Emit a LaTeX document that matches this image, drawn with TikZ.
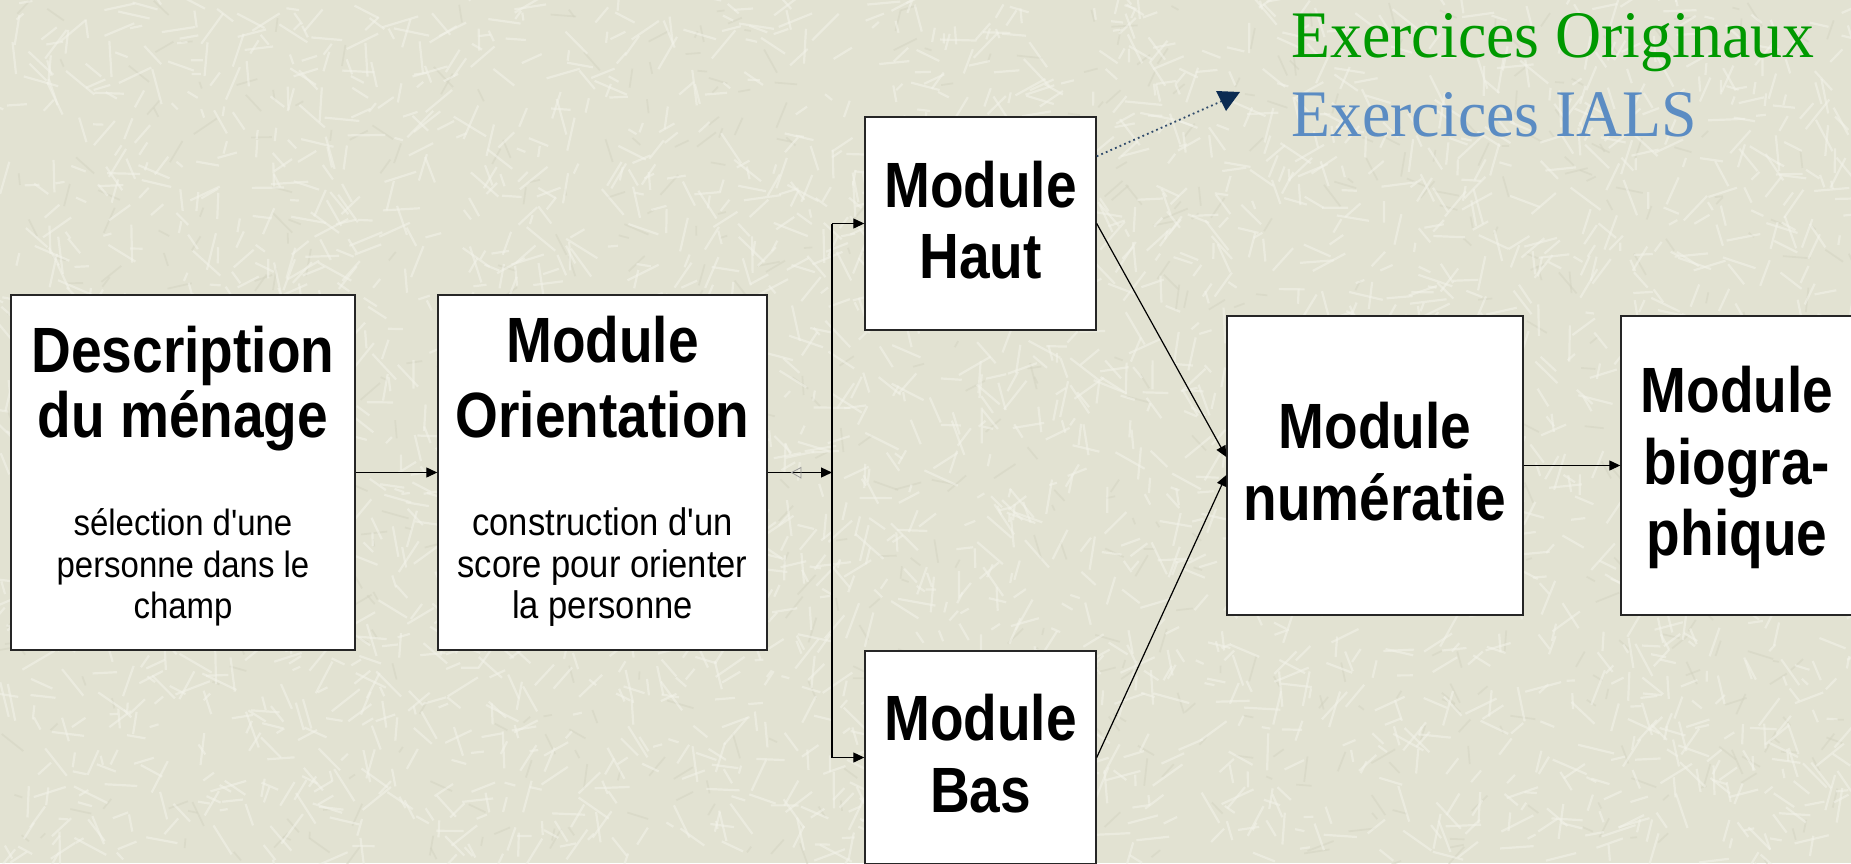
\documentclass[tikz,border=0pt]{standalone}
\usepackage{fontspec}
\usetikzlibrary{arrows.meta,calc}
\newfontfamily\boxbf[FakeStretch=0.86]{Liberation Sans}
\newfontfamily\boxrm[FakeStretch=0.9]{Liberation Sans}
\newfontfamily\serifx[FakeStretch=0.96]{Liberation Serif}
\definecolor{bg}{HTML}{E2E2D2}
\definecolor{streak}{HTML}{F3F3EA}
\definecolor{streakd}{HTML}{D3D3C1}
\definecolor{navy}{HTML}{0B2B52}
\definecolor{exgreen}{HTML}{009900}
\definecolor{exblue}{HTML}{5B8CC3}
\tikzset{
  box/.style={draw=black!85, line width=0.7pt, fill=white, rectangle, inner sep=0pt},
  titletxt/.style={anchor=base, inner sep=0pt, font=\boxbf\bfseries\fontsize{32pt}{32pt}\selectfont},
  smalltxt/.style={anchor=base, inner sep=0pt, font=\boxrm\fontsize{18.3pt}{18.3pt}\selectfont},
  smalltxtb/.style={anchor=base, inner sep=0pt, font=\boxrm\fontsize{19.2pt}{19.2pt}\selectfont},
  extxt/.style={anchor=base west, inner sep=0pt, font=\serifx\fontsize{33.25pt}{33.25pt}\selectfont},
  conn/.style={draw=black, line width=0.6pt, -{Triangle[length=5.5pt,width=5pt]}},
  plainline/.style={draw=black, line width=0.6pt}
}
\begin{document}
\begin{tikzpicture}[x=0.5pt,y=-0.5pt]
\useasboundingbox (0,0) rectangle (1851,863);
\begin{scope}
\clip (0,0) rectangle (1851,863);
\fill[bg] (0,0) rectangle (1851,863);
\pgfmathsetseed{12}
\foreach \i in {1,...,700}{
  \pgfmathsetmacro\xa{rnd*1851}
  \pgfmathsetmacro\ya{rnd*863}
  \pgfmathsetmacro\an{rnd*360}
  \pgfmathsetmacro\le{6+rnd*22}
  \draw[streakd, line width=0.9pt, opacity=0.5] (\xa,\ya) -- ++(\an:\le);
}
\foreach \i in {1,...,3200}{
  \pgfmathsetmacro\xa{rnd*1851}
  \pgfmathsetmacro\ya{rnd*863}
  \pgfmathsetmacro\an{rnd*360}
  \pgfmathsetmacro\le{8+rnd*30}
  \draw[streak, line width=1.1pt, opacity=0.55] (\xa,\ya) -- ++(\an:\le);
}

% boxes
\node[box, minimum width=172pt, minimum height=177.5pt] (desc) at (183,472.5) {};
\node[box, minimum width=164.5pt, minimum height=177.5pt] (orient) at (602.5,472.5) {};
\node[box, minimum width=115.5pt, minimum height=106.5pt] (haut) at (980.5,223.5) {};
\node[box, minimum width=115.5pt, minimum height=106.5pt] (bas) at (980.5,757.5) {};
\node[box, minimum width=148pt, minimum height=149.5pt] (num) at (1375,465.5) {};
\node[box, minimum width=116pt, minimum height=149.5pt] (bio) at (1737,465.5) {};

% texts
\node[titletxt] (d1) at (183,372) {Description};
\node[titletxt] (d2) at (183,437) {du ménage};
\node[smalltxt] (d3) at (183,535) {sélection d'une};
\node[smalltxt] (d4) at (183,577) {personne dans le};
\node[smalltxt] (d5) at (183,618) {champ};

\node[titletxt] (o1) at (602.5,362) {Module};
\node[titletxt] (o2) at (602.5,437) {Orientation};
\node[smalltxtb] (o3) at (602.5,535) {construction d'un};
\node[smalltxtb] (o4) at (602.5,577) {score pour orienter};
\node[smalltxtb] (o5) at (602.5,618) {la personne};

\node[titletxt] (h1) at (980.5,207) {Module};
\node[titletxt] (h2) at (980.5,278) {Haut};

\node[titletxt] (b1) at (980.5,740) {Module};
\node[titletxt] (b2) at (980.5,812) {Bas};

\node[titletxt] (n1) at (1375,448) {Module};
\node[titletxt] (n2) at (1375,520) {numératie};

\node[titletxt] (g1) at (1737,412) {Module};
\node[titletxt] (g2) at (1737,484) {biogra-};
\node[titletxt] (g3) at (1737,555) {phique};

\node[extxt, text=exgreen] (e1) at (1291,57) {Exercices Originaux};
\node[extxt, text=exblue] (e2) at (1291,136) {Exercices IALS};

% connectors
\draw[conn] (desc.east) -- (orient.west);
\coordinate (split) at (832,472.5);
\coordinate (vtop) at (832,223.5);
\coordinate (vbot) at (832,757.5);
\draw[conn] (orient.east) -- (split);
\draw[gray!80, line width=0.4pt] (801,467.5) -- (791.5,472.5) -- (801,478) -- cycle;
\draw[plainline] (vtop) -- (vbot);
\draw[conn] (vtop) -- (haut.west);
\draw[conn] (vbot) -- (bas.west);
\draw[conn] (haut.east) -- ($(num.west)+(0,-8.5)$);
\draw[conn] (bas.east) -- ($(num.west)+(0,9.5)$);
\draw[conn] (num.east) -- (bio.west);

% dotted arrow
\coordinate (dstart) at ($(haut.north east)+(0,40)$);
\coordinate (dend) at (1222,101);
\draw[navy!85, line width=0.9pt, dash pattern=on 0.9pt off 1.6pt] (dstart) -- (dend);
\fill[navy] (1216,91) -- (1240,92) -- (1226,111) -- cycle;
\end{scope}
\end{tikzpicture}
\end{document}
